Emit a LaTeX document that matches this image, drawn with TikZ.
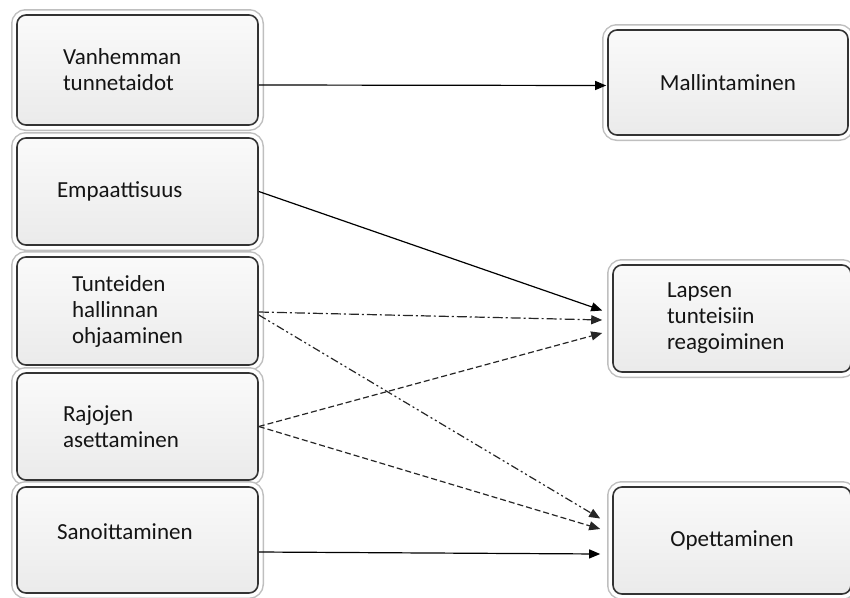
\documentclass[tikz,border=0pt]{standalone}
\usepackage{fontspec}
\setmainfont{Carlito}
\usetikzlibrary{arrows.meta}

\begin{document}
\begin{tikzpicture}[x=1pt,y=-1pt,
    box/.style={rounded corners=9pt, draw=black!80, line width=1.6pt,
        top color=black!2, middle color=black!3, bottom color=black!8,
        preaction={draw=black!25, line width=12pt},
        preaction={draw=white, line width=9pt},
        minimum width=241pt, inner sep=0pt, align=left, text=black!92,
        font=\fontsize{23}{26}\selectfont},
    link/.style={-{Triangle[length=11pt,width=9pt]}, line width=1.2pt},
    dashdot/.style={dash pattern=on 10pt off 3pt on 2pt off 3pt},
    dashdotdot/.style={dash pattern=on 8pt off 3pt on 2pt off 3pt on 2pt off 3pt},
    shortdash/.style={dash pattern=on 6pt off 3pt}]
    \useasboundingbox (0,0) rectangle (850,597);
    \clip (0,0) rectangle (850,597);

    % left column
    \node[box, minimum height=110pt, text width=149pt] (vanhemman) at (137.5,70) {Vanhemman\\tunnetaidot};
    \node[box, minimum height=107pt, text width=161pt] (empaattisuus) at (137.5,191.5) {Empaattisuus};
    \node[box, minimum height=108pt, text width=131pt] (tunteiden) at (137.5,311) {Tunteiden\\hallinnan\\ohjaaminen};
    \node[box, minimum height=107pt, text width=149pt] (rajojen) at (137.5,426.5) {Rajojen\\asettaminen};
    \node[box, minimum height=106pt, text width=161pt, text depth=17pt] (sanoittaminen) at (137.5,540) {Sanoittaminen};

    % right column
    \node[box, minimum width=240pt, minimum height=105pt, align=center] (mallintaminen) at (728,82.5) {Mallintaminen};
    \node[box, minimum width=238pt, minimum height=107pt, text width=130pt] (lapsen) at (732,318.5) {Lapsen\\tunteisiin\\reagoiminen};
    \node[box, minimum width=238pt, minimum height=107pt, align=center] (opettaminen) at (732,540.5) {Opettaminen};

    % connectors
    \draw[link] ([yshift=-15pt]vanhemman.east) -- ([xshift=-1pt,yshift=-3pt]mallintaminen.west);
    \draw[link] (empaattisuus.east) -- ([xshift=-10pt,yshift=8pt]lapsen.west);
    \draw[link, dashdot, black!85] ([yshift=-1pt]tunteiden.east) -- ([xshift=-10pt,yshift=-1.5pt]lapsen.west);
    \draw[link, dashdotdot, black!85] ([yshift=-4pt]tunteiden.east) -- ([xshift=-12pt,yshift=22pt]opettaminen.west);
    \draw[link, shortdash, black!85] (rajojen.east) -- ([xshift=-10pt,yshift=-14.5pt]lapsen.west);
    \draw[link, shortdash, black!85] (rajojen.east) -- ([xshift=-12pt,yshift=11.5pt]opettaminen.west);
    \draw[link] ([yshift=-12pt]sanoittaminen.east) -- ([xshift=-12pt,yshift=-13.5pt]opettaminen.west);
\end{tikzpicture}
\end{document}
